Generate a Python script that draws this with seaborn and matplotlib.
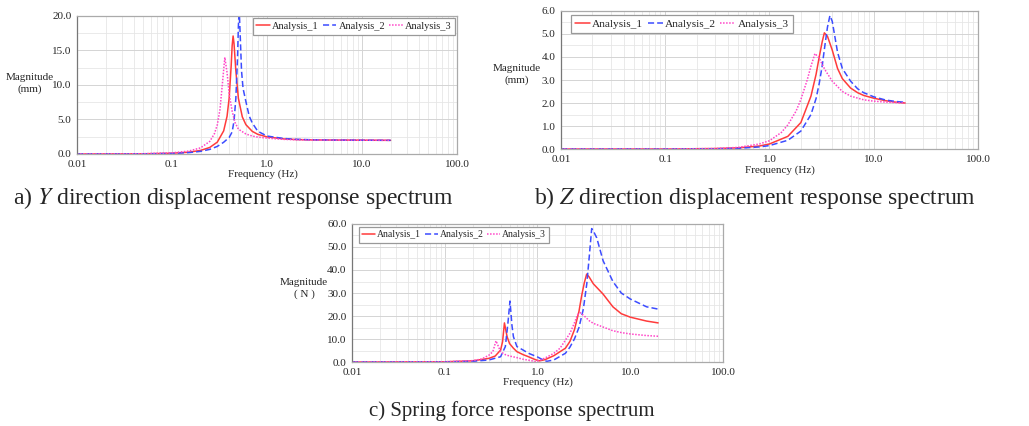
import numpy as np
import pandas as pd
import matplotlib
matplotlib.use("Agg")
import matplotlib.pyplot as plt
import seaborn as sns
from matplotlib.ticker import LogLocator, MultipleLocator, FormatStrFormatter, NullFormatter

# ---- data ----
labels = ["Analysis_1", "Analysis_2", "Analysis_3"]

# a) Y direction displacement (mm)
ya1_freq = [0.01, 0.05, 0.1, 0.15, 0.2, 0.25, 0.3, 0.35, 0.38, 0.4, 0.42, 0.43, 0.44, 0.45, 0.47, 0.5,
            0.55, 0.6, 0.7, 0.8, 1.0, 1.5, 2, 3, 5, 10, 20]
ya1_mag = [0.0, 0.03, 0.11, 0.26, 0.52, 0.95, 1.72, 3.35, 5.46, 8.1, 12.8, 15.7, 17.1, 16.0, 12.1, 8.07,
           5.38, 4.25, 3.28, 2.85, 2.48, 2.19, 2.10, 2.04, 2.02, 2.0, 1.98]
ya2_freq = [0.01, 0.05, 0.1, 0.15, 0.2, 0.25, 0.3, 0.35, 0.4, 0.43, 0.45, 0.47, 0.49, 0.5, 0.51, 0.52,
            0.54, 0.56, 0.6, 0.65, 0.7, 0.8, 1.0, 1.5, 2, 3, 5, 10, 20]
ya2_mag = [0.0, 0.02, 0.08, 0.2, 0.38, 0.67, 1.1, 1.7, 2.4, 3.2, 4.8, 8.0, 14.0, 18.5, 21.0, 18.0,
           12.0, 9.5, 7.6, 5.5, 4.5, 3.3, 2.6, 2.25, 2.13, 2.06, 2.02, 2.0, 1.98]
ya3_freq = [0.01, 0.05, 0.1, 0.15, 0.2, 0.25, 0.28, 0.3, 0.32, 0.34, 0.36, 0.38, 0.4, 0.43, 0.46, 0.5,
            0.6, 0.7, 0.8, 1.0, 1.5, 2, 3, 5, 10, 20]
ya3_mag = [0.0, 0.04, 0.17, 0.42, 0.89, 1.83, 2.95, 4.23, 6.44, 10.3, 14.0, 11.8, 8.7, 6.2, 4.6, 3.6,
           2.9, 2.6, 2.45, 2.3, 2.12, 2.06, 2.03, 2.01, 2.0, 1.99]

# b) Z direction displacement (mm)
zb1_freq = [0.01, 0.1, 0.3, 0.5, 0.8, 1.0, 1.5, 2.0, 2.5, 2.8, 3.0, 3.2, 3.36, 3.6, 4.0, 4.5,
            5, 6, 7, 8, 10, 13, 16, 20]
zb1_mag = [0.0, 0.0, 0.02, 0.05, 0.13, 0.22, 0.55, 1.15, 2.3, 3.25, 4.0, 4.65, 5.05, 4.9, 4.3, 3.5,
           3.06, 2.65, 2.45, 2.33, 2.21, 2.1, 2.04, 2.0]
zb2_freq = [0.01, 0.1, 0.3, 0.5, 0.8, 1.0, 1.5, 2.0, 2.5, 2.8, 3.0, 3.2, 3.4, 3.6, 3.8, 4.0, 4.5,
            5, 6, 7, 8, 10, 13, 16, 20]
zb2_mag = [0.0, 0.0, 0.01, 0.03, 0.09, 0.15, 0.38, 0.78, 1.5, 2.2, 2.85, 3.6, 4.5, 5.3, 5.8, 5.55, 4.2,
           3.5, 2.95, 2.62, 2.45, 2.27, 2.13, 2.07, 2.03]
zb3_freq = [0.01, 0.1, 0.3, 0.5, 0.8, 1.0, 1.3, 1.5, 1.8, 2.0, 2.3, 2.5, 2.73, 3.0, 3.4, 4.0,
            5, 6, 8, 10, 13, 16, 20]
zb3_mag = [0.0, 0.0, 0.02, 0.07, 0.22, 0.36, 0.72, 1.05, 1.65, 2.15, 3.0, 3.6, 4.15, 3.95, 3.45, 2.95,
           2.5, 2.3, 2.14, 2.08, 2.04, 2.02, 2.0]

# c) Spring force (N)
fc1_freq = [0.01, 0.1, 0.2, 0.3, 0.35, 0.4, 0.42, 0.44, 0.47, 0.5, 0.55, 0.6, 0.7, 0.8, 0.9, 1.0,
            1.05, 1.2, 1.5, 2.0, 2.24, 2.5, 2.8, 3.0, 3.2, 3.39, 3.6, 4.0, 5.1, 6.5, 8, 10, 15, 20]
fc1_mag = [0.0, 0.1, 0.5, 1.6, 2.6, 5.2, 8.8, 17.0, 11.0, 8.0, 6.0, 4.5, 3.2, 2.3, 1.4, 0.7,
           0.5, 1.0, 2.75, 6.0, 9.0, 14.0, 22.0, 29.0, 34.5, 38.2, 37.0, 34.0, 29.5, 24.0, 21.0, 19.5,
           17.8, 17.0]
fc2_freq = [0.01, 0.1, 0.2, 0.3, 0.4, 0.45, 0.48, 0.505, 0.53, 0.55, 0.6, 0.7, 0.8, 1.0, 1.1, 1.26,
            1.5, 2.0, 2.24, 2.5, 2.8, 3.12, 3.4, 3.6, 3.84, 4.0, 4.35, 5.1, 6.5, 8, 10, 15, 20]
fc2_mag = [0.0, 0.05, 0.3, 0.9, 2.3, 6.7, 17.0, 26.5, 16.0, 11.0, 6.7, 5.2, 3.8, 2.2, 1.3, 0.3,
           0.9, 3.8, 6.5, 10.0, 15.0, 23.0, 34.0, 45.0, 58.0, 57.0, 54.0, 44.0, 35.0, 30.0, 27.4,
           24.0, 23.0]
fc3_freq = [0.01, 0.1, 0.2, 0.25, 0.3, 0.33, 0.357, 0.4, 0.45, 0.5, 0.6, 0.7, 0.8, 0.95, 1.1, 1.3,
            1.5, 1.75, 2.0, 2.24, 2.5, 2.7, 2.87, 3.2, 3.6, 4.0, 5.1, 6.5, 8, 10, 15, 20]
fc3_mag = [0.0, 0.1, 0.6, 1.3, 3.0, 4.5, 9.2, 4.5, 3.2, 2.6, 1.9, 1.2, 0.8, 0.2, 1.0, 2.4,
           3.8, 6.0, 9.5, 12.5, 17.0, 20.5, 21.5, 20.0, 18.0, 16.8, 15.2, 13.6, 12.8, 12.2, 11.5, 11.2]

x_ticks = [0.01, 0.1, 1.0, 10.0, 100.0]
x_ticklabels = ["0.01", "0.1", "1.0", "10.0", "100.0"]

captions = [r"a) $Y$ direction displacement response spectrum",
            r"b) $Z$ direction displacement response spectrum",
            "c) Spring force response spectrum"]

colors = ["#ff3b3b", "#3c4cff", "#ff45c8"]
styles = ["-", (0, (4, 2)), (0, (1, 1))]

sns.set_theme(style="white")
plt.rcParams["font.family"] = ["Liberation Serif", "DejaVu Serif"]
plt.rcParams["mathtext.fontset"] = "stix"


def draw_panel(ax, curves, ymax, ymajor, yminor, ylabel, ylab_xy, leg_loc, leg_anchor, leg_size, xlab_xy):
    for (f, m), lab, col, ls in zip(curves, labels, colors, styles):
        df = pd.DataFrame({"Frequency": f, "Magnitude": m})
        sns.lineplot(data=df, x="Frequency", y="Magnitude", ax=ax, color=col,
                     linestyle=ls, linewidth=1.1, label=lab)
    ax.set_xscale("log")
    ax.set_xlim(0.01, 100)
    ax.set_ylim(0, ymax)
    ax.set_xticks(x_ticks)
    ax.set_xticklabels(x_ticklabels)
    ax.xaxis.set_minor_locator(LogLocator(base=10, subs=np.arange(2, 10)))
    ax.xaxis.set_minor_formatter(NullFormatter())
    ax.yaxis.set_major_locator(MultipleLocator(ymajor))
    ax.yaxis.set_minor_locator(MultipleLocator(yminor))
    ax.yaxis.set_major_formatter(FormatStrFormatter("%.1f"))
    ax.grid(True, which="major", color="#d4d4d4", linewidth=0.7)
    ax.grid(True, which="minor", color="#e6e6e6", linewidth=0.6)
    ax.set_axisbelow(True)
    ax.tick_params(axis="both", which="major", labelsize=8, length=3, pad=1, color="#888888")
    ax.tick_params(axis="x", which="minor", length=0)
    ax.tick_params(axis="y", which="minor", length=2, direction="in", color="#888888")
    for name, sp in ax.spines.items():
        sp.set_color("#aaaaaa")
        sp.set_linewidth(0.9)
    ax.spines["left"].set_color("#777777")
    ax.set_ylabel(ylabel, rotation=0, fontsize=8, ha="center", va="center", linespacing=1.3)
    ax.yaxis.set_label_coords(*ylab_xy)
    ax.set_xlabel("Frequency (Hz)", fontsize=8, va="center")
    ax.xaxis.set_label_coords(*xlab_xy)
    leg = ax.legend(loc=leg_loc, bbox_to_anchor=leg_anchor, ncol=3, fontsize=leg_size,
                    handlelength=1.3, handletextpad=0.2, columnspacing=0.4, borderpad=0.35,
                    borderaxespad=0.0, fancybox=False, framealpha=1.0, edgecolor="#999999")
    leg.get_frame().set_linewidth(0.9)


fig = plt.figure(figsize=(10.29, 4.26), dpi=100)
ax_a = fig.add_axes([0.0748, 0.6385, 0.3693, 0.324])
ax_b = fig.add_axes([0.5452, 0.6502, 0.4052, 0.324])
ax_c = fig.add_axes([0.3421, 0.1502, 0.3605, 0.324])

draw_panel(ax_a, [(ya1_freq, ya1_mag), (ya2_freq, ya2_mag), (ya3_freq, ya3_mag)],
           20, 5, 2.5, "Magnitude\n(mm)", (-0.124, 0.51), "upper right", (0.995, 0.985), 7.5,
           (0.49, -0.145))
draw_panel(ax_b, [(zb1_freq, zb1_mag), (zb2_freq, zb2_mag), (zb3_freq, zb3_mag)],
           6, 1, 0.5, "Magnitude\n(mm)", (-0.105, 0.54), "upper left", (0.024, 0.97), 8.2,
           (0.525, -0.15))
draw_panel(ax_c, [(fc1_freq, fc1_mag), (fc2_freq, fc2_mag), (fc3_freq, fc3_mag)],
           60, 10, 5, "Magnitude\n( N )", (-0.129, 0.535), "upper left", (0.019, 0.978), 7,
           (0.5, -0.145))

fig.text(233 / 1029, 1 - 198 / 426, captions[0], fontsize=17, ha="center", va="center")
fig.text(755 / 1029, 1 - 198 / 426, captions[1], fontsize=17, ha="center", va="center")
fig.text(512 / 1029, 1 - 411 / 426, captions[2], fontsize=15, ha="center", va="center")

fig.savefig("out.png", dpi=100)
plt.close(fig)
